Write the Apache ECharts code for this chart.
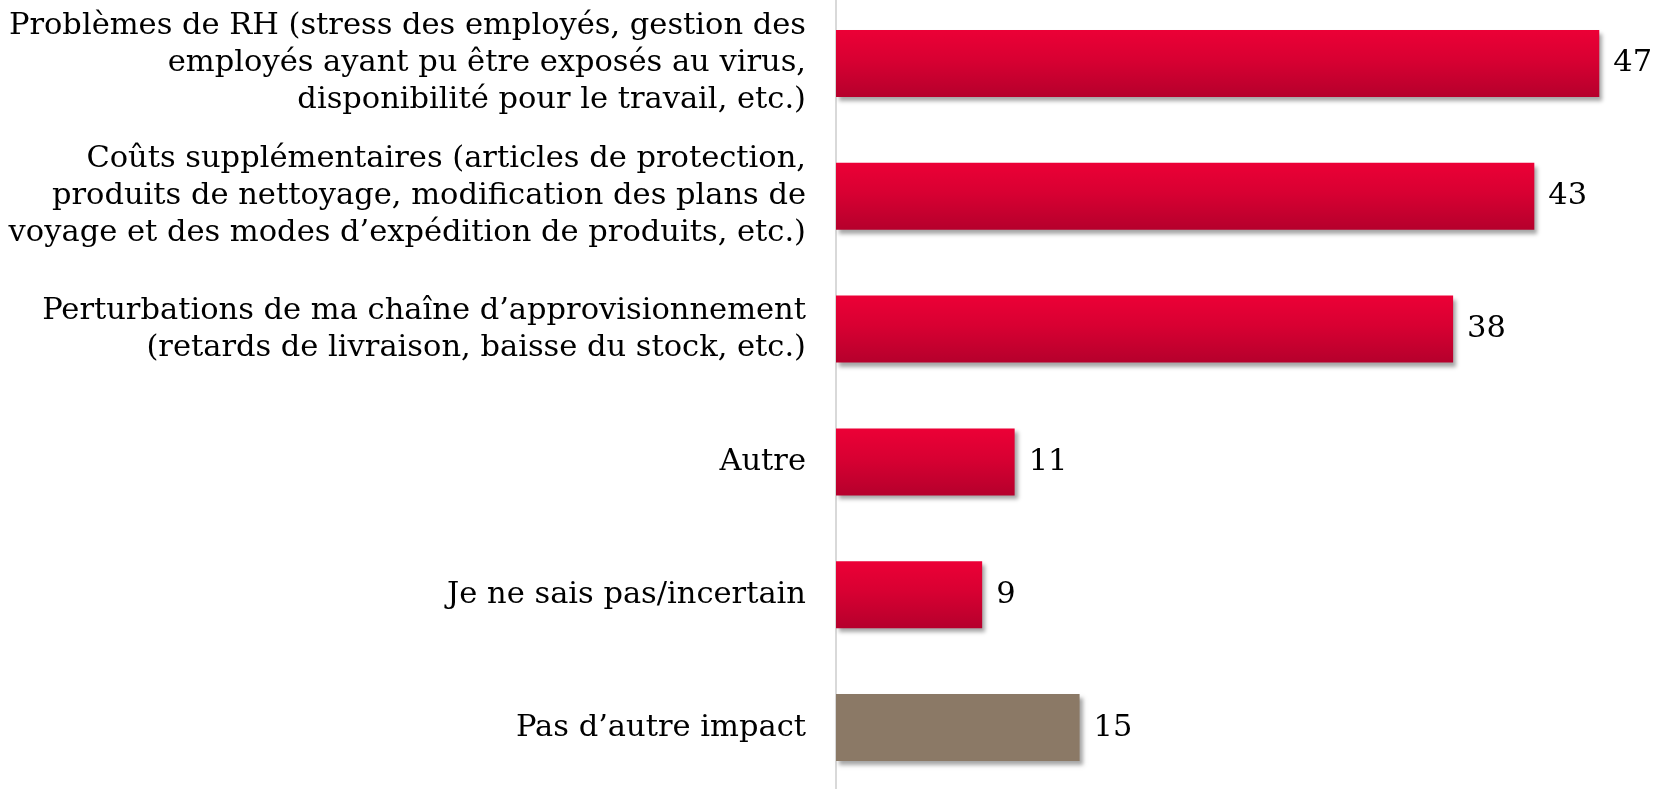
<!DOCTYPE html>
<html lang="fr">
<head>
  <meta charset="UTF-8">
  <title>Impacts</title>
  <script src="https://cdn.jsdelivr.net/npm/echarts@6/dist/echarts.min.js"></script>
  <style>
    html, body { margin: 0; padding: 0; background: #fff; overflow: hidden; }
    /* slightly taller than the window so the 6 bands line up */
    #chart { width: 1675px; height: 797px; margin-top: -3px; }
  </style>
</head>
<body>
  <div id="chart"></div>
  <script>
    var aCategories = [
      'Problèmes de RH (stress des employés, gestion des\nemployés ayant pu être exposés au virus,\ndisponibilité pour le travail, etc.)',
      'Coûts supplémentaires (articles de protection,\nproduits de nettoyage, modification des plans de\nvoyage et des modes d’expédition de produits, etc.)',
      'Perturbations de ma chaîne d’approvisionnement\n(retards de livraison, baisse du stock, etc.)',
      'Autre',
      'Je ne sais pas/incertain',
      'Pas d’autre impact'
    ];
    var aValues = [47, 43, 38, 11, 9, 15];

    var redGrad = new echarts.graphic.LinearGradient(0, 0, 0, 1, [
      { offset: 0, color: '#ec0036' },
      { offset: 0.45, color: '#d80032' },
      { offset: 1, color: '#b5002c' }
    ]);
    var greyColor = '#8b7966';

    var aData = [];
    for (var i = 0; i < aValues.length; i++) {
      aData.push({
        value: aValues[i],
        itemStyle: { color: i === aValues.length - 1 ? greyColor : redGrad }
      });
    }

    var oChart = echarts.init(document.getElementById('chart'));
    var opt = {
      animation: false,
      textStyle: { fontFamily: 'DejaVu Serif' },
      grid: { left: 836, right: 27, top: 0, bottom: 0 },
      xAxis: {
        type: 'value',
        min: 0,
        max: 50,
        show: false
      },
      yAxis: {
        type: 'category',
        inverse: true,
        data: aCategories,
        axisLine: { show: true, lineStyle: { color: '#d9d9d9', width: 2 } },
        axisTick: { show: false },
        axisLabel: {
          margin: 30,
          color: '#000',
          fontSize: 30.5,
          lineHeight: 37,
          align: 'right',
          padding: [12, 0, 0, 0],
          fontFamily: 'DejaVu Serif'
        }
      },
      series: [{
        type: 'bar',
        data: aData,
        barCategoryGap: '49.5%',
        itemStyle: {
          shadowColor: 'rgba(0,0,0,0.35)',
          shadowBlur: 4,
          shadowOffsetX: 3,
          shadowOffsetY: 4
        },
        label: {
          show: true,
          position: 'right',
          distance: 14,
          color: '#000',
          fontSize: 30.5,
          fontFamily: 'DejaVu Serif'
        }
      }]
    };
    oChart.setOption(opt);
  </script>
</body>
</html>
